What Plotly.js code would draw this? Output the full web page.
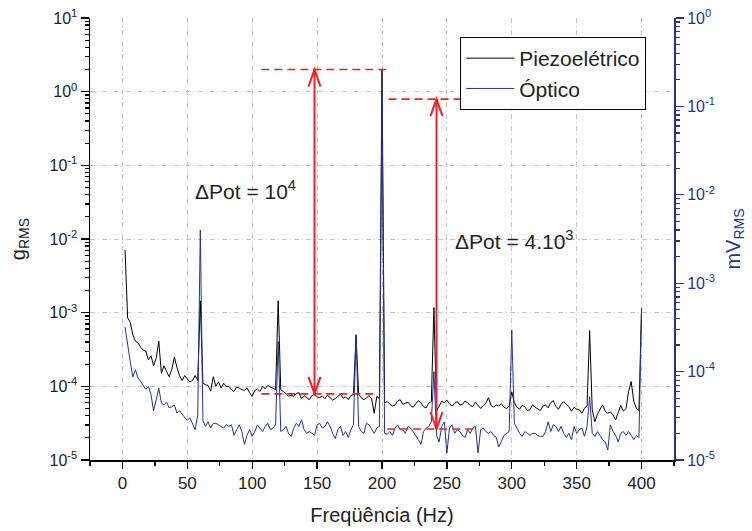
<!DOCTYPE html>
<html>
<head>
<meta charset="utf-8">
<script src="https://cdn.plot.ly/plotly-3.0.1.min.js"></script>
<style>html,body{margin:0;padding:0;background:#fff;}#chart{width:752px;height:531px;}</style>
</head>
<body>
<div id="chart"></div>
<script>
// Frequency bins (Hz)
const freq = [
  2,4,6,8,10,12,14,16,18,20, 22,24,26,28,30,32,34,36,38,40,
  42,44,46,48,50,52,54,56,58,60, 62,64,66,68,70,72,74,76,78,80,
  82,84,86,88,90,92,94,96,98,100, 102,104,106,108,110,112,114,116,118,120,
  122,124,126,128,130,132,134,136,138,140, 142,144,146,148,150,152,154,156,158,160,
  162,164,166,168,170,172,174,176,178,180, 182,184,186,188,190,192,194,196,198,200,
  202,204,206,208,210,212,214,216,218,220, 222,224,226,228,230,232,234,236,238,240,
  242,244,246,248,250,252,254,256,258,260, 262,264,266,268,270,272,274,276,278,280,
  282,284,286,288,290,292,294,296,298,300, 302,304,306,308,310,312,314,316,318,320,
  322,324,326,328,330,332,334,336,338,340, 342,344,346,348,350,352,354,356,358,360,
  362,364,366,368,370,372,374,376,378,380, 382,384,386,388,390,392,394,396,398,400
];

// Piezoelétrico (g_RMS, left axis)
const piezo = [
  7.1e-3,8.5e-4,7.4e-4,5.0e-4,4.1e-4,3.9e-4,3.4e-4,3.1e-4,3.0e-4,2.3e-4,
  2.6e-4,1.9e-4,2.4e-4,4.1e-4,1.5e-4,1.9e-4,1.6e-4,1.35e-4,1.7e-4,2.5e-4,
  1.8e-4,1.4e-4,1.2e-4,1.4e-4,1.25e-4,1.15e-4,1.2e-4,1.4e-4,1.2e-4,1.44e-3,
  1.1e-4,1.05e-4,1.03e-4,8.6e-5,1.35e-4,1.0e-4,1.15e-4,9.5e-5,1.1e-4,1.0e-4,
  1.0e-4,9.0e-5,8.5e-5,9.8e-5,9.5e-5,9.0e-5,8.8e-5,9.5e-5,8.2e-5,7.3e-5,
  8.8e-5,9.2e-5,8.5e-5,1.0e-4,9.3e-5,1.03e-4,9.8e-5,9.5e-5,9.0e-5,1.45e-3,
  9.0e-5,8.5e-5,8.0e-5,7.3e-5,7.6e-5,7.3e-5,8.0e-5,8.2e-5,6.8e-5,7.5e-5,
  7.0e-5,6.6e-5,7.5e-5,7.8e-5,7.2e-5,7.0e-5,7.4e-5,6.8e-5,7.6e-5,7.0e-5,
  6.5e-5,6.8e-5,7.3e-5,7.8e-5,6.9e-5,7.2e-5,6.6e-5,7.5e-5,7.7e-5,5.0e-4,
  7.8e-5,7.0e-5,6.6e-5,6.9e-5,7.5e-5,6.8e-5,4.3e-5,7.3e-5,6.8e-5,2.0,
  6.0e-5,6.2e-5,5.8e-5,5.4e-5,5.6e-5,6.3e-5,6.6e-5,5.7e-5,5.9e-5,6.1e-5,
  5.5e-5,5.2e-5,5.8e-5,6.4e-5,6.0e-5,5.3e-5,5.1e-5,5.9e-5,6.2e-5,1.17e-3,
  4.6e-5,5.4e-5,6.3e-5,6.0e-5,6.5e-5,5.8e-5,5.4e-5,5.9e-5,6.2e-5,5.6e-5,
  5.7e-5,6.3e-5,6.0e-5,5.5e-5,5.3e-5,6.1e-5,5.6e-5,5.0e-5,5.5e-5,5.9e-5,
  7.0e-5,5.5e-5,5.2e-5,5.6e-5,5.4e-5,5.8e-5,5.2e-5,5.0e-5,5.4e-5,8.4e-5,
  6.0e-5,5.2e-5,4.9e-5,5.5e-5,5.3e-5,4.7e-5,4.8e-5,5.6e-5,5.2e-5,5.0e-5,
  4.7e-5,5.4e-5,5.6e-5,5.1e-5,6.0e-5,6.4e-5,5.3e-5,4.9e-5,5.7e-5,6.2e-5,
  5.8e-5,5.3e-5,4.6e-5,5.2e-5,4.9e-5,4.8e-5,4.3e-5,5.0e-5,5.5e-5,5.7e-4,
  4.8e-5,3.3e-5,4.2e-5,4.8e-5,5.6e-5,4.6e-5,4.3e-5,4.5e-5,4.1e-5,3.5e-5,
  4.4e-5,5.5e-5,4.6e-5,5.0e-5,8.5e-5,1.16e-4,6.3e-5,5.0e-5,4.7e-5,1.15e-3
];

// Óptico (mV_RMS, right axis)
const optico = [
  3.2e-4,1.9e-4,1.3e-4,8.7e-5,1.05e-4,8.5e-5,7.8e-5,7.0e-5,6.3e-5,6.8e-5,
  5.5e-5,3.6e-5,4.8e-5,6.5e-5,4.4e-5,4.2e-5,4.5e-5,3.9e-5,4.0e-5,4.2e-5,
  3.4e-5,3.6e-5,3.3e-5,3.0e-5,2.8e-5,3.0e-5,2.6e-5,2.2e-5,3.2e-5,4.0e-3,
  2.8e-5,2.4e-5,2.7e-5,2.3e-5,2.6e-5,2.6e-5,2.5e-5,2.4e-5,2.3e-5,2.5e-5,
  2.4e-5,2.5e-5,1.9e-5,2.2e-5,2.5e-5,2.1e-5,1.5e-5,1.9e-5,2.2e-5,1.85e-5,
  2.1e-5,2.5e-5,2.3e-5,2.1e-5,2.4e-5,2.6e-5,2.2e-5,2.3e-5,2.5e-5,2.2e-4,
  2.1e-5,2.2e-5,2.4e-5,2.0e-5,1.85e-5,2.3e-5,2.6e-5,2.4e-5,2.85e-5,2.2e-5,
  2.0e-5,2.1e-5,2.0e-5,1.9e-5,2.5e-5,2.6e-5,2.3e-5,2.4e-5,2.7e-5,2.4e-5,
  2.0e-5,1.75e-5,2.2e-5,2.4e-5,1.9e-5,2.1e-5,1.8e-5,2.2e-5,2.5e-5,2.6e-4,
  2.4e-5,2.1e-5,2.0e-5,2.6e-5,2.5e-5,2.2e-5,2.0e-5,2.3e-5,2.4e-5,0.121,
  2.0e-5,1.95e-5,2.1e-5,1.9e-5,2.3e-5,2.5e-5,2.2e-5,2.2e-5,2.0e-5,2.4e-5,
  2.3e-5,2.1e-5,1.9e-5,1.7e-5,1.5e-5,2.1e-5,2.3e-5,2.4e-5,2.7e-5,1.0e-4,
  1.9e-5,1.6e-5,2.4e-5,2.7e-5,1.2e-5,2.3e-5,2.5e-5,2.0e-5,2.2e-5,2.1e-5,
  1.9e-5,1.8e-5,2.2e-5,2.0e-5,2.3e-5,2.4e-5,1.2e-5,2.2e-5,2.3e-5,2.1e-5,
  2.0e-5,2.1e-5,1.9e-5,1.8e-5,1.4e-5,1.6e-5,1.9e-5,2.0e-5,2.1e-5,2.95e-4,
  2.6e-5,2.3e-5,2.0e-5,1.85e-5,2.1e-5,2.0e-5,1.9e-5,2.0e-5,2.0e-5,1.9e-5,
  1.85e-5,1.85e-5,2.1e-5,2.7e-5,2.1e-5,2.5e-5,2.4e-5,2.1e-5,2.4e-5,2.0e-5,
  1.8e-5,2.0e-5,1.7e-5,2.4e-5,2.0e-5,2.2e-5,2.3e-5,1.85e-5,2.4e-5,5.2e-5,
  2.0e-5,1.85e-5,2.1e-5,1.9e-5,1.7e-5,1.6e-5,1.3e-5,2.5e-5,2.1e-5,1.9e-5,
  1.6e-5,2.0e-5,2.1e-5,1.9e-5,2.1e-5,1.9e-5,1.7e-5,1.9e-5,1.8e-5,5.2e-4
];

// Axis ticks
const xTicks = [0,50,100,150,200,250,300,350,400];
const xMinor = [-25,25,75,125,175,225,275,325,375,425];
const yLeftTicks = [1e-5,1e-4,1e-3,1e-2,1e-1,1,10];
const yLeftLabels = ['10<sup>-5</sup>','10<sup>-4</sup>','10<sup>-3</sup>','10<sup>-2</sup>','10<sup>-1</sup>','10<sup>0</sup>','10<sup>1</sup>'];
const yRightTicks = [1e-5,1e-4,1e-3,1e-2,1e-1,1];
const yRightLabels = ['10<sup>-5</sup>','10<sup>-4</sup>','10<sup>-3</sup>','10<sup>-2</sup>','10<sup>-1</sup>','10<sup>0</sup>'];

// Annotation levels (ΔPot markers)
const piezoTop = 2.0, piezoFloor = 7.9e-5;
const opticoTop = 0.121, opticoFloor = 2.24e-5;

function minorLog(lo, hi) {
  const out = [];
  for (let e = lo; e < hi; e++) for (let m = 2; m <= 9; m++) out.push(m * Math.pow(10, e));
  return out;
}

const FONT = 'Liberation Sans, Arial, Helvetica, sans-serif';
const BLUE = '#27328f';
const RED = '#ec2228';

const traces = [
  {x: freq, y: piezo, type: 'scatter', mode: 'lines', name: 'Piezoelétrico',
   line: {color: '#000000', width: 1}, xaxis: 'x', yaxis: 'y'},
  {x: freq, y: optico, type: 'scatter', mode: 'lines', name: 'Óptico',
   line: {color: BLUE, width: 1}, xaxis: 'x', yaxis: 'y2'}
];

const dashLine = {color: RED, width: 1.6, dash: '8px,5px'};
const solidLine = {color: RED, width: 2};
function head(x, y, yref, up) {
  return {type: 'path', xref: 'x', yref: yref, xsizemode: 'pixel', ysizemode: 'pixel',
    xanchor: x, yanchor: y, path: up ? 'M-6,-17L0,0L6,-17' : 'M-6,17L0,0L6,17',
    line: solidLine, fillcolor: 'rgba(0,0,0,0)'};
}

const gridStyle = {gridcolor: '#c4c4c4', griddash: '5px,3px,1px,3px', gridwidth: 1};

const layout = {
  width: 752, height: 531,
  margin: {l: 90, r: 78, t: 18, b: 71},
  paper_bgcolor: '#ffffff', plot_bgcolor: '#ffffff',
  font: {family: FONT, size: 16, color: '#222222'},
  showlegend: true,
  legend: {x: 0.634, y: 0.957, xanchor: 'left', yanchor: 'top',
    bgcolor: '#ffffff', bordercolor: '#000000', borderwidth: 1, itemwidth: 48,
    font: {family: FONT, size: 21, color: '#222222'}, tracegroupgap: 0},
  xaxis: Object.assign({
    range: [-25, 425], tickmode: 'array', tickvals: xTicks,
    ticks: 'outside', ticklen: 7, tickwidth: 1.3, tickcolor: '#000',
    showline: true, linecolor: '#000', linewidth: 1.5,
    showgrid: true, zeroline: false,
    minor: {tickmode: 'array', tickvals: xMinor, ticks: 'outside', ticklen: 4, tickcolor: '#000', showgrid: false},
    tickfont: {size: 17, color: '#222'},
    title: {text: 'Freqüência (Hz)', font: {size: 20, color: '#222'}, standoff: 16}
  }, gridStyle),
  xaxis2: {
    overlaying: 'x', side: 'top', anchor: 'y', range: [-25, 425],
    tickmode: 'array', tickvals: xTicks, ticks: 'inside', ticklen: 7, tickcolor: '#000',
    showticklabels: false, showline: true, linecolor: '#000', linewidth: 1.5,
    showgrid: false, zeroline: false,
    minor: {tickmode: 'array', tickvals: xMinor, ticks: 'inside', ticklen: 4, tickcolor: '#000'}
  },
  yaxis: Object.assign({
    type: 'log', range: [-5, 1], tickmode: 'array', tickvals: yLeftTicks, ticktext: yLeftLabels,
    ticks: 'outside', ticklen: 8, tickwidth: 1.3, tickcolor: '#000',
    showline: true, linecolor: '#000', linewidth: 1.5, showgrid: true, zeroline: false,
    minor: {tickmode: 'array', tickvals: minorLog(-5, 1), ticks: 'outside', ticklen: 4, tickcolor: '#000', showgrid: false},
    tickfont: {size: 16, color: '#222'},
    title: {text: 'g<sub>RMS</sub>', font: {size: 20, color: '#222'}, standoff: 18}
  }, gridStyle),
  yaxis2: {
    type: 'log', range: [-5, 0], overlaying: 'y', side: 'right', anchor: 'x',
    tickmode: 'array', tickvals: yRightTicks, ticktext: yRightLabels,
    ticks: 'outside', ticklen: 8, tickwidth: 1.3, tickcolor: BLUE,
    showline: true, linecolor: BLUE, linewidth: 2, showgrid: false, zeroline: false,
    minor: {tickmode: 'array', tickvals: minorLog(-5, 0), ticks: 'outside', ticklen: 4, tickcolor: BLUE},
    tickfont: {size: 16, color: BLUE},
    title: {text: 'mV<sub>RMS</sub>', font: {size: 20, color: BLUE}, standoff: 12}
  },
  shapes: [
    {type: 'line', xref: 'x', yref: 'y', x0: 107, x1: 205, y0: piezoTop, y1: piezoTop, line: dashLine},
    {type: 'line', xref: 'x', yref: 'y', x0: 107, x1: 194, y0: piezoFloor, y1: piezoFloor, line: dashLine},
    {type: 'line', xref: 'x', yref: 'y', x0: 148, x1: 148, y0: piezoTop, y1: piezoFloor, line: solidLine},
    head(148, piezoTop, 'y', true),
    head(148, piezoFloor, 'y', false),
    {type: 'line', xref: 'x', yref: 'y2', x0: 205, x1: 279, y0: opticoTop, y1: opticoTop, line: dashLine},
    {type: 'line', xref: 'x', yref: 'y2', x0: 204, x1: 273, y0: opticoFloor, y1: opticoFloor, line: dashLine},
    {type: 'line', xref: 'x', yref: 'y2', x0: 242, x1: 242, y0: opticoTop, y1: opticoFloor, line: solidLine},
    head(242, opticoTop, 'y2', true),
    head(242, opticoFloor, 'y2', false)
  ],
  annotations: [
    {xref: 'paper', yref: 'paper', x: 0.176, y: 0.611, xanchor: 'left', yanchor: 'middle',
     text: 'ΔPot = 10<sup>4</sup>', showarrow: false, font: {family: FONT, size: 21, color: '#222'}},
    {xref: 'paper', yref: 'paper', x: 0.621, y: 0.498, xanchor: 'left', yanchor: 'middle',
     text: 'ΔPot = 4.10<sup>3</sup>', showarrow: false, font: {family: FONT, size: 21, color: '#222'}}
  ]
};

Plotly.newPlot('chart', traces, layout, {displayModeBar: false, staticPlot: true});
</script>
</body>
</html>
